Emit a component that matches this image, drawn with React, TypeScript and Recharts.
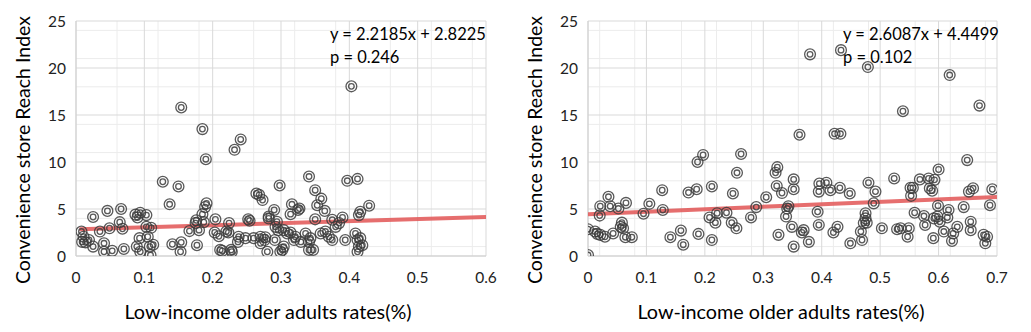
import { CartesianGrid, Scatter, ScatterChart, XAxis, YAxis } from 'recharts';

type Pt = [number, number];

// Left panel: points (rate, reach index)
const leftPoints: Pt[] = [
  [0.008, 2.6], [0.011, 2.05], [0.009, 1.5], [0.014, 1.45], [0.019, 1.7], [0.025, 1.0], [0.025, 4.15],
  [0.035, 2.6], [0.041, 1.35], [0.041, 0.45], [0.046, 4.8], [0.049, 2.95], [0.053, 0.55], [0.064, 3.6],
  [0.066, 5.0], [0.068, 2.9], [0.07, 0.75], [0.087, 4.4], [0.089, 1.0], [0.09, 4.1], [0.093, 1.9],
  [0.094, 4.6], [0.094, 0.45], [0.103, 4.35], [0.103, 3.1], [0.105, 2.05], [0.108, 1.0], [0.109, 0.1],
  [0.11, 3.0], [0.113, 1.2], [0.127, 7.9], [0.137, 5.5], [0.141, 1.25], [0.15, 7.4], [0.153, 0.45],
  [0.154, 15.8], [0.154, 1.45], [0.166, 2.65], [0.175, 3.5], [0.176, 3.8], [0.177, 1.15], [0.18, 2.75],
  [0.185, 13.5], [0.185, 4.45], [0.187, 3.6], [0.189, 5.2], [0.19, 10.3], [0.191, 5.6], [0.204, 3.9],
  [0.203, 2.5], [0.209, 2.1], [0.211, 0.65], [0.214, 0.55], [0.22, 2.6], [0.223, 2.5], [0.224, 3.5],
  [0.227, 0.65], [0.228, 0.45], [0.232, 11.3], [0.237, 1.5], [0.238, 2.05], [0.241, 12.4], [0.248, 1.9],
  [0.252, 3.9], [0.254, 3.75], [0.26, 1.9], [0.264, 6.65], [0.268, 6.5], [0.27, 2.05], [0.27, 1.35],
  [0.273, 5.95], [0.276, 1.7], [0.277, 2.0], [0.28, 0.45], [0.282, 4.0], [0.282, 4.2], [0.29, 4.9],
  [0.291, 1.7], [0.292, 3.1], [0.294, 3.65], [0.296, 2.75], [0.298, 7.5], [0.299, 0.45], [0.302, 0.65],
  [0.304, 1.0], [0.304, 2.75], [0.309, 2.4], [0.314, 4.45], [0.314, 2.5], [0.316, 5.5], [0.319, 1.7],
  [0.321, 2.05], [0.325, 4.9], [0.327, 5.05], [0.329, 1.5], [0.336, 2.4], [0.341, 8.45], [0.341, 1.5],
  [0.341, 0.65], [0.343, 1.9], [0.347, 0.65], [0.35, 7.0], [0.35, 3.9], [0.353, 5.4], [0.358, 2.4],
  [0.359, 6.1], [0.364, 4.8], [0.365, 2.6], [0.37, 2.05], [0.375, 3.85], [0.375, 1.7], [0.38, 3.1],
  [0.385, 3.5], [0.39, 4.1], [0.394, 1.7], [0.397, 8.0], [0.403, 18.05], [0.409, 2.4], [0.412, 8.2],
  [0.412, 1.7], [0.412, 0.45], [0.414, 4.35], [0.414, 1.0], [0.416, 4.7], [0.416, 1.9], [0.419, 1.15],
  [0.429, 5.35],
];

// Right panel
const rightPoints: Pt[] = [
  [0, 2.85], [0, 0.1], [0.012, 2.6], [0.016, 2.35], [0.02, 4.3], [0.021, 2.25], [0.021, 5.3], [0.029, 2.05],
  [0.035, 6.3], [0.038, 5.3], [0.043, 2.4], [0.052, 5.05], [0.056, 3.1], [0.058, 3.55], [0.06, 2.95],
  [0.064, 2.0], [0.065, 5.65], [0.075, 2.0], [0.095, 4.5], [0.105, 5.55], [0.127, 7.0], [0.128, 4.9],
  [0.141, 2.0], [0.159, 2.7], [0.163, 1.2], [0.172, 6.75], [0.186, 7.1], [0.1875, 10.0], [0.189, 2.35],
  [0.197, 10.75], [0.208, 4.1], [0.212, 7.4], [0.212, 1.7], [0.218, 3.55], [0.221, 4.55], [0.237, 4.6],
  [0.246, 3.55], [0.248, 6.65], [0.254, 2.95], [0.255, 8.85], [0.262, 10.85], [0.279, 4.1], [0.288, 5.2],
  [0.305, 6.25], [0.321, 8.85], [0.323, 7.45], [0.324, 9.45], [0.326, 2.25], [0.332, 6.7], [0.339, 4.2],
  [0.341, 5.05], [0.343, 5.3], [0.349, 3.1], [0.352, 1.0], [0.352, 8.15], [0.352, 7.1], [0.362, 12.9],
  [0.366, 2.5], [0.369, 2.75], [0.378, 1.5], [0.38, 21.45], [0.393, 4.7], [0.395, 3.3], [0.395, 6.85],
  [0.396, 7.7], [0.408, 7.8], [0.415, 7.0], [0.42, 2.5], [0.422, 13.0], [0.427, 3.1], [0.431, 7.25],
  [0.432, 13.0], [0.433, 21.9], [0.448, 6.65], [0.449, 1.35], [0.467, 2.6], [0.469, 1.7], [0.472, 3.5],
  [0.475, 4.55], [0.475, 4.0], [0.477, 3.55], [0.479, 20.1], [0.48, 7.8], [0.489, 5.6], [0.492, 6.85],
  [0.503, 2.95], [0.524, 8.25], [0.529, 2.85], [0.535, 2.95], [0.539, 15.4], [0.547, 2.05], [0.549, 2.95],
  [0.552, 7.25], [0.553, 6.4], [0.556, 7.25], [0.559, 4.6], [0.568, 8.15], [0.575, 4.25], [0.577, 3.3],
  [0.583, 8.25], [0.585, 7.2], [0.589, 6.95], [0.591, 1.9], [0.592, 4.0], [0.593, 8.1], [0.598, 4.2],
  [0.599, 5.35], [0.6, 9.2], [0.602, 3.65], [0.609, 2.6], [0.615, 4.1], [0.617, 4.9], [0.619, 19.25],
  [0.623, 1.6], [0.625, 2.4], [0.632, 3.1], [0.643, 5.2], [0.649, 10.2], [0.652, 6.85], [0.655, 3.65],
  [0.655, 2.75], [0.659, 7.2], [0.67, 16.0], [0.677, 2.25], [0.68, 1.35], [0.683, 2.05], [0.688, 5.4],
  [0.692, 7.1],
];

const leftXTicks = [0, 0.1, 0.2, 0.3, 0.4, 0.5, 0.6];
const rightXTicks = [0, 0.1, 0.2, 0.3, 0.4, 0.5, 0.6, 0.7];
const yTicks = [0, 5, 10, 15, 20, 25];

// regression lines as printed in the charts
const leftSlope = 2.2185;
const leftIntercept = 2.8225;
const leftP = '0.246';
const rightSlope = 2.6087;
const rightIntercept = 4.4499;
const rightP = '0.102';

const FONT = 'Lato, "Open Sans", sans-serif';

const Ring = (props: any) => {
  const { cx, cy } = props;
  if (cx == null || cy == null) return <g />;
  return (
    <g fill="none" stroke="#3c3c3c" strokeOpacity={0.85} strokeWidth={1.3}>
      <circle cx={cx} cy={cy} r={5.4} />
      <circle cx={cx} cy={cy} r={2.8} />
    </g>
  );
};

const NoDot = () => <g />;

type PanelProps = {
  points: Pt[];
  xTicks: number[];
  slope: number;
  intercept: number;
  p: string;
  fitFrom: number;
  width: number;
  yAxisWidth: number;
  rightMargin: number;
  eqX: number;
  xTitleX: number;
  yTitleX: number;
};

const Panel = ({ points, xTicks, slope, intercept, p, fitFrom, width, yAxisWidth, rightMargin, eqX, xTitleX, yTitleX }: PanelProps) => {
  const xMax = xTicks[xTicks.length - 1];
  const data = points.map(([x, y]) => ({ x, y }));
  const fit = [fitFrom, xMax].map((x) => ({ x, y: intercept + slope * x }));
  const minorX: number[] = [];
  for (let i = 1; i < xMax * 50; i++) if (i % 5 !== 0) minorX.push(+(i * 0.02).toFixed(2));
  const minorY: number[] = [];
  for (let i = 1; i < 25; i++) if (i % 5 !== 0) minorY.push(i);

  return (
    <ScatterChart width={width} height={332} margin={{ top: 21, right: rightMargin, bottom: 0, left: 0 }}>
      <CartesianGrid stroke="#ececec" horizontalValues={minorY} verticalValues={minorX} />
      <CartesianGrid stroke="#d9d9d9" />
      <XAxis
        type="number"
        dataKey="x"
        domain={[0, xMax]}
        ticks={xTicks}
        tickFormatter={(v: number) => String(v)}
        height={76}
        tickLine={false}
        tickSize={0}
        tickMargin={16}
        axisLine={{ stroke: '#d0d0d0' }}
        tick={{ fill: '#222', fontSize: 15.5 }}
        allowDataOverflow
      />
      <YAxis
        type="number"
        dataKey="y"
        domain={[0, 25]}
        ticks={yTicks}
        width={yAxisWidth}
        tickLine={false}
        tickSize={0}
        tickMargin={10}
        axisLine={{ stroke: '#d0d0d0' }}
        tick={{ fill: '#222', fontSize: 15.5 }}
        allowDataOverflow
      />
      <Scatter
        data={fit}
        line={{ stroke: '#e25555', strokeOpacity: 0.85, strokeWidth: 4 }}
        shape={NoDot}
        isAnimationActive={false}
      />
      <Scatter data={data} shape={Ring} isAnimationActive={false} />
      <text x={eqX} y={40} fontSize={16.5} fill="#000" fontFamily={FONT}>
        {`y = ${slope}x + ${intercept}`}
      </text>
      <text x={eqX} y={63} fontSize={16.5} fill="#000" fontFamily={FONT}>
        {`p = ${p}`}
      </text>
      <text x={xTitleX} y={319} fontSize={19.8} fill="#000" textAnchor="middle" fontFamily={FONT}>
        Low-income older adults rates(%)
      </text>
      <text
        x={yTitleX}
        y={150}
        fontSize={19.5}
        fill="#000"
        textAnchor="middle"
        dominantBaseline="central"
        transform={`rotate(-90, ${yTitleX}, 150)`}
        fontFamily={FONT}
      >
        Convenience store Reach Index
      </text>
    </ScatterChart>
  );
};

export default function App() {
  return (
    <div style={{ position: 'absolute', left: 0, top: 0, width: 1031, height: 332, background: '#fff', fontFamily: FONT }}>
      <div style={{ position: 'absolute', left: 0, top: 0 }}>
        <Panel
          points={leftPoints}
          xTicks={leftXTicks}
          slope={leftSlope}
          intercept={leftIntercept}
          p={leftP}
          fitFrom={0.005}
          width={500}
          yAxisWidth={76}
          rightMargin={14}
          eqX={330}
          xTitleX={268}
          yTitleX={22.5}
        />
      </div>
      <div style={{ position: 'absolute', left: 510, top: 0 }}>
        <Panel
          points={rightPoints}
          xTicks={rightXTicks}
          slope={rightSlope}
          intercept={rightIntercept}
          p={rightP}
          fitFrom={0}
          width={521}
          yAxisWidth={78}
          rightMargin={34}
          eqX={333}
          xTitleX={271}
          yTitleX={24.5}
        />
      </div>
    </div>
  );
}
